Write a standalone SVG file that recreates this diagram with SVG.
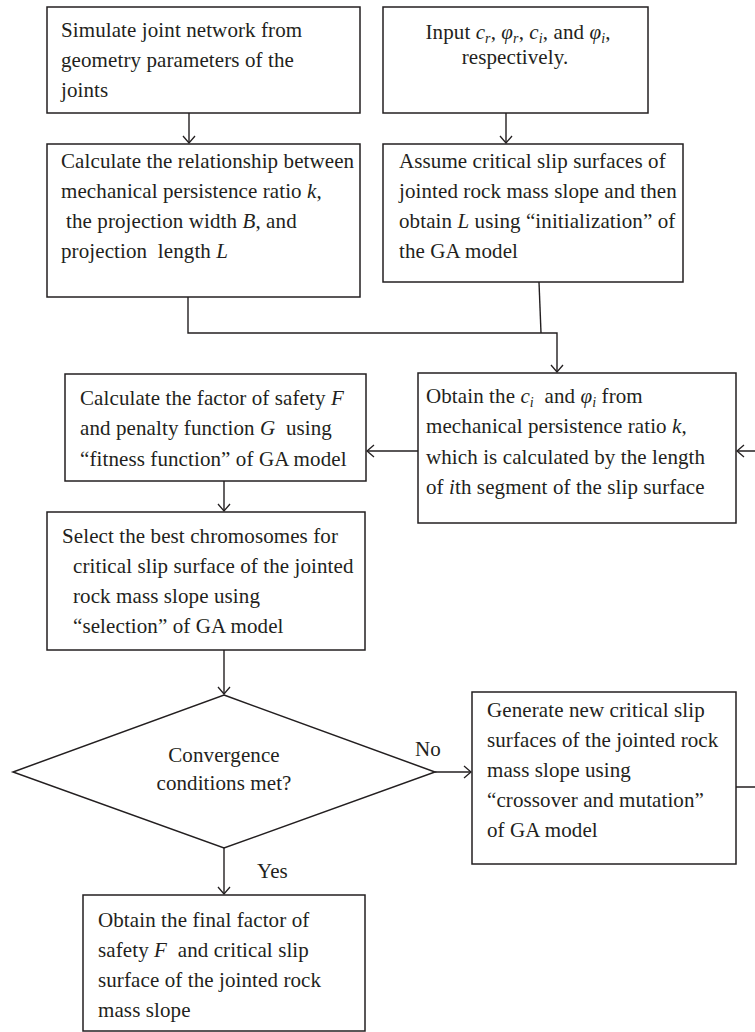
<svg xmlns="http://www.w3.org/2000/svg" width="755" height="1032" viewBox="0 0 755 1032">
<style>
.box{fill:#fff;stroke:#231f20;stroke-width:1.5}
.ln{fill:none;stroke:#231f20;stroke-width:1.4}
text{font-family:"Liberation Serif","Times New Roman",serif;font-size:21px;fill:#231f20;letter-spacing:0.1px}
.it{font-style:italic}
.sub{font-style:italic;font-size:14px}
.mid{text-anchor:middle}
</style>
<defs>
<marker id="ah" markerUnits="userSpaceOnUse" markerWidth="10" markerHeight="14" refX="8" refY="7" orient="auto">
<path d="M1,1 L8,7 L1,13" fill="none" stroke="#231f20" stroke-width="1.3"/>
</marker>
</defs>
<g id="connectors">
<path class="ln" d="M189,113 V143" marker-end="url(#ah)"/>
<path class="ln" d="M506,113 V143" marker-end="url(#ah)"/>
<path class="ln" d="M188,297 V333 H557 V372" marker-end="url(#ah)"/>
<path class="ln" d="M539,282 L541,333"/>
<path class="ln" d="M418,451 H367" marker-end="url(#ah)"/>
<path class="ln" d="M736,787 H760 V451 H737" marker-end="url(#ah)"/>
<path class="ln" d="M224,481 V511" marker-end="url(#ah)"/>
<path class="ln" d="M224,650 V694" marker-end="url(#ah)"/>
<path class="ln" d="M435,772 H471" marker-end="url(#ah)"/>
<path class="ln" d="M224,848 V894" marker-end="url(#ah)"/>
<text x="415" y="756">No</text>
<text x="257" y="878">Yes</text>
</g>
<g id="n1">
<rect class="box" x="47" y="7" width="313" height="106"/>
<text x="61" y="37">Simulate joint network from</text>
<text x="61" y="67">geometry parameters of the</text>
<text x="61" y="97">joints</text>
</g>
<g id="n2">
<rect class="box" x="383" y="7" width="265" height="106"/>
<text class="mid" x="518" y="39">Input <tspan class="it">c</tspan><tspan class="sub" dy="4">r</tspan><tspan dy="-4">, </tspan><tspan class="it">φ</tspan><tspan class="sub" dy="4">r</tspan><tspan dy="-4">, </tspan><tspan class="it">c</tspan><tspan class="sub" dy="4">i</tspan><tspan dy="-4">, and </tspan><tspan class="it">φ</tspan><tspan class="sub" dy="4">i</tspan><tspan dy="-4">,</tspan></text>
<text class="mid" x="515" y="64">respectively.</text>
</g>
<g id="n3">
<rect class="box" x="47" y="144" width="313" height="153"/>
<text x="61" y="168">Calculate the relationship between</text>
<text x="61" y="198">mechanical persistence ratio <tspan class="it">k</tspan>,</text>
<text x="66" y="228">the projection width <tspan class="it">B</tspan>, and</text>
<text x="61" y="258">projection&#160; length <tspan class="it">L</tspan></text>
</g>
<g id="n4">
<rect class="box" x="383" y="144" width="300" height="138"/>
<text x="399" y="168">Assume critical slip surfaces of</text>
<text x="399" y="198">jointed rock mass slope and then</text>
<text x="399" y="228">obtain <tspan class="it">L</tspan> using “initialization” of</text>
<text x="399" y="258">the GA model</text>
</g>
<g id="n5">
<rect class="box" x="418" y="373" width="318" height="150"/>
<text x="426" y="403">Obtain the <tspan class="it">c</tspan><tspan class="sub" dy="4">i</tspan><tspan dy="-4">&#160; and </tspan><tspan class="it">φ</tspan><tspan class="sub" dy="4">i</tspan><tspan dy="-4"> from</tspan></text>
<text x="426" y="433">mechanical persistence ratio <tspan class="it">k</tspan>,</text>
<text x="426" y="464">which is calculated by the length</text>
<text x="426" y="494">of <tspan class="it">i</tspan>th segment of the slip surface</text>
</g>
<g id="n6">
<rect class="box" x="65" y="374" width="301" height="107"/>
<text x="80" y="405">Calculate the factor of safety <tspan class="it">F</tspan></text>
<text x="80" y="435">and penalty function <tspan class="it">G</tspan>&#160; using</text>
<text x="80" y="466">“fitness function” of GA model</text>
</g>
<g id="n7">
<rect class="box" x="47" y="512" width="318" height="138"/>
<text x="62" y="543">Select the best chromosomes for</text>
<text x="73" y="573">critical slip surface of the jointed</text>
<text x="73" y="603">rock mass slope using</text>
<text x="73" y="633">“selection” of GA model</text>
</g>
<g id="n8">
<polygon class="box" points="224,695 435,772 224,848 13,772"/>
<text class="mid" x="224" y="762">Convergence</text>
<text class="mid" x="224" y="790">conditions met?</text>
</g>
<g id="n9">
<rect class="box" x="472" y="692" width="264" height="172"/>
<text x="487" y="717">Generate new critical slip</text>
<text x="487" y="747">surfaces of the jointed rock</text>
<text x="487" y="777">mass slope using</text>
<text x="487" y="807">“crossover and mutation”</text>
<text x="487" y="837">of GA model</text>
</g>
<g id="n10">
<rect class="box" x="83" y="895" width="282" height="136"/>
<text x="98" y="927">Obtain the final factor of</text>
<text x="98" y="957">safety <tspan class="it">F</tspan>&#160; and critical slip</text>
<text x="98" y="987">surface of the jointed rock</text>
<text x="98" y="1017">mass slope</text>
</g>
</svg>
